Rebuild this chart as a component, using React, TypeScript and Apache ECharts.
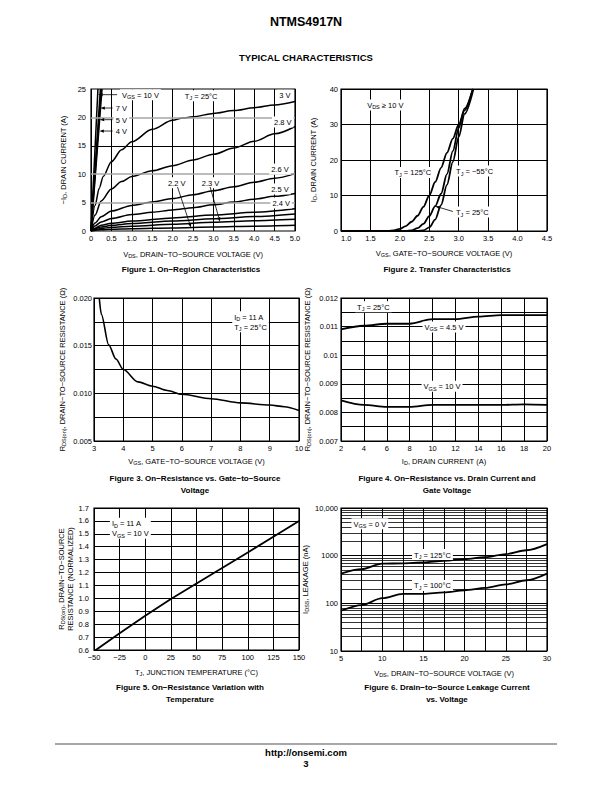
import React, { useEffect, useRef } from 'react';
import * as echarts from 'echarts';

const FONT = '"Liberation Sans", Arial, Helvetica, sans-serif';
const FS = 7.5;

// ---------- Figure 1: On-Region Characteristics (x: VDS [V], y: -ID [A]) ----------
const f1Vgs10 = [[0, 0], [0.17, 25]];
const f1Vgs7 = [[0, 0], [0.23, 25]];
const f1Vgs5 = [[0, 0], [0.25, 25]];
const f1Vgs4 = [[0, 0], [0.27, 25]];
const f1Vgs3 = [[0, 0], [0.1, 4.5], [0.2, 7.5], [0.3, 9.6], [0.5, 12.2], [0.75, 14.3], [1.0, 15.7], [1.5, 17.9], [2.0, 19.5], [2.25, 19.9], [2.5, 20.1], [3.0, 20.7], [3.5, 21.2], [4.0, 21.7], [4.5, 22.2], [5.0, 22.8]];
const f1Vgs28 = [[0, 0], [0.1, 2.8], [0.25, 5.3], [0.5, 7.4], [0.75, 8.7], [1.0, 9.6], [1.5, 10.6], [2.0, 11.5], [2.5, 12.5], [3.0, 13.5], [3.5, 14.6], [4.0, 15.8], [4.5, 17.1], [5.0, 18.4]];
const f1Vgs26 = [[0, 0], [0.1, 1.4], [0.25, 2.5], [0.5, 3.5], [1.0, 4.5], [1.5, 5.1], [2.0, 5.7], [2.5, 6.4], [3.0, 7.1], [3.5, 7.8], [4.0, 8.6], [4.5, 9.3], [5.0, 10.1]];
const f1Vgs25 = [[0, 0], [0.1, 0.9], [0.25, 1.6], [0.5, 2.2], [1.0, 2.9], [1.5, 3.3], [2.0, 3.7], [2.5, 4.1], [3.0, 4.6], [3.5, 5.1], [4.0, 5.6], [4.5, 6.1], [5.0, 6.6]];
const f1Vgs24 = [[0, 0], [0.1, 0.5], [0.25, 1.0], [0.5, 1.35], [1.0, 1.75], [2.0, 2.3], [3.0, 2.8], [4.0, 3.3], [5.0, 3.9]];
const f1Unlabeled = [[0, 0], [0.25, 0.7], [0.5, 1.0], [1.0, 1.3], [2.0, 1.75], [3.0, 2.15], [4.0, 2.55], [5.0, 3.0]];
const f1Vgs23 = [[0, 0], [0.25, 0.45], [0.5, 0.65], [1.0, 0.85], [2.0, 1.2], [3.0, 1.55], [4.0, 1.8], [5.0, 2.05]];
const f1Vgs22 = [[0, 0], [0.25, 0.2], [0.5, 0.3], [1.0, 0.4], [2.0, 0.55], [3.0, 0.7], [4.0, 0.85], [5.0, 1.0]];
const f1GrayGrid = [5, 10, 20];
const f1BlackGrid = [15];

// ---------- Figure 2: Transfer Characteristics (x: VGS [V], y: ID [A]) ----------
const f2Tj125 = [[1.0, 0], [1.8, 0], [1.9, 0.2], [2.0, 0.6], [2.1, 1.4], [2.2, 2.6], [2.3, 4.3], [2.4, 6.8], [2.5, 10.0], [2.6, 13.8], [2.7, 17.8], [2.8, 22.0], [2.9, 26.0], [3.0, 30.0], [3.1, 34.0], [3.24, 40]];
const f2Tj25 = [[1.0, 0], [2.1, 0], [2.2, 0.2], [2.3, 0.8], [2.4, 2.0], [2.5, 4.2], [2.6, 7.0], [2.7, 10.5], [2.8, 16.0], [2.9, 22.5], [3.0, 29.0], [3.1, 34.5], [3.24, 40]];
const f2TjM55 = [[1.0, 0], [2.3, 0], [2.4, 0.2], [2.5, 1.0], [2.6, 3.2], [2.7, 7.3], [2.8, 13.0], [2.9, 19.5], [3.0, 26.5], [3.1, 33.0], [3.25, 40]];

// ---------- Figure 3: RDS(on) vs VGS ----------
const f3Vgs = [3.18, 3.25, 3.5, 3.75, 4.0, 4.5, 5.0, 5.5, 6.0, 7.0, 8.0, 9.0, 9.5, 10.0];
const f3Rds = [0.020, 0.0183, 0.0151, 0.0136, 0.0125, 0.0112, 0.01075, 0.0103, 0.0099, 0.00943, 0.0090, 0.00877, 0.0086, 0.0082];

// ---------- Figure 4: RDS(on) vs ID ----------
const f4Id = [2, 4, 6, 8, 10, 12, 14, 16, 18, 20];
const f4Rds45 = [0.0109, 0.01103, 0.0111, 0.0111, 0.01126, 0.01126, 0.01135, 0.0114, 0.0114, 0.0114];
const f4Rds10 = [0.00842, 0.00826, 0.00819, 0.00819, 0.00826, 0.00826, 0.00826, 0.00826, 0.00828, 0.00826];

// ---------- Figure 5: normalized RDS(on) vs TJ ----------
const f5Tj = [-50, -25, 0, 25, 50, 75, 100, 125, 150];
const f5Rnorm = [0.59, 0.73, 0.865, 0.995, 1.115, 1.235, 1.355, 1.478, 1.6];

// ---------- Figure 6: IDSS vs VDS ----------
const f6Vds = [5, 7.5, 10, 12.5, 15, 17.5, 20, 22.5, 25, 27.5, 30];
const f6Idss125 = [420, 520, 680, 690, 720, 780, 850, 930, 1080, 1300, 1750];
const f6Idss100 = [70, 92, 128, 158, 158, 170, 188, 210, 250, 305, 420];
const f6MinorGrid = [20, 30, 40, 50, 60, 70, 80, 90, 200, 300, 400, 500, 600, 700, 800, 900, 2000, 3000, 4000, 5000, 6000, 7000, 8000, 9000];

// ---------- Layout ----------
const grids = [
  { left: 91, top: 89, width: 204, height: 142 },
  { left: 341, top: 89, width: 206, height: 142 },
  { left: 94, top: 298, width: 205, height: 143 },
  { left: 341, top: 298, width: 206, height: 143 },
  { left: 94, top: 508, width: 205, height: 142 },
  { left: 341, top: 508, width: 206, height: 143 },
];

const subRich = { fontSize: 5.5, fontFamily: FONT, color: '#000', fill: '#000', verticalAlign: 'bottom' };
const nameStyle = { fontSize: FS, fontFamily: FONT, color: '#000', lineHeight: 10, rich: { sub: subRich } };

const fix = (v: number, d: number) => Number(v.toFixed(d));

function makeXAxis(gi: number, min: number, max: number, interval: number, fmt: (v: number) => string, name: string, nameGap: number, minAlign = 'center') {
  return {
    type: 'value', gridIndex: gi, min, max, interval,
    name, nameLocation: 'middle', nameGap, nameTextStyle: nameStyle,
    axisLine: { show: false }, axisTick: { show: false },
    axisLabel: { fontSize: FS, fontFamily: FONT, color: '#000', margin: 3, formatter: fmt, showMinLabel: true, showMaxLabel: true, alignMinLabel: minAlign },
    splitLine: { show: true, lineStyle: { color: '#000', width: 1 } },
  };
}

function makeYAxis(gi: number, base: any, fmt: (v: number) => string, name: string, nameGap: number, margin: number, split = true, extraName: any = {}) {
  return {
    gridIndex: gi, ...base,
    name, nameLocation: 'middle', nameRotate: 90, nameGap, nameTextStyle: { ...nameStyle, ...extraName },
    axisLine: { show: false }, axisTick: { show: false },
    axisLabel: { fontSize: FS, fontFamily: FONT, color: '#000', margin, formatter: fmt, showMinLabel: true, showMaxLabel: true },
    splitLine: { show: split, lineStyle: { color: '#000', width: 1 } },
  };
}

function curve(gi: number, data: number[][], width = 1.5, smooth: number | boolean = 0.3) {
  return {
    type: 'line', xAxisIndex: gi, yAxisIndex: gi, data, symbol: 'none', showSymbol: false,
    smooth, smoothMonotone: 'x', silent: true, z: 3,
    lineStyle: { color: '#000', width },
  };
}

function hLines(gi: number, anchor: number[], values: number[], color: string, width: number) {
  return {
    type: 'line', xAxisIndex: gi, yAxisIndex: gi, data: [anchor], symbol: 'none', showSymbol: false, silent: true, z: 1,
    lineStyle: { opacity: 0 },
    markLine: {
      silent: true, symbol: 'none', label: { show: false }, animation: false,
      lineStyle: { color, width, type: 'solid' },
      data: values.map((v) => ({ yAxis: v })),
    },
  };
}

function buildOption() {
  const zip = (xs: number[], ys: number[]) => xs.map((x, i) => [x, ys[i]]);
  return {
    animation: false,
    backgroundColor: '#fff',
    grid: grids.map((g) => ({ ...g, show: true, borderColor: '#000', borderWidth: 1.2, backgroundColor: 'transparent', containLabel: false, outerBoundsMode: 'none' })),
    xAxis: [
      makeXAxis(0, 0, 5, 0.5, (v) => (v === 0 ? '0' : v.toFixed(1)), 'V{sub|DS}, DRAIN\u2212TO\u2212SOURCE VOLTAGE (V)', 18),
      makeXAxis(1, 1, 4.5, 0.5, (v) => v.toFixed(1), 'V{sub|GS}, GATE\u2212TO\u2212SOURCE VOLTAGE (V)', 17, 'left'),
      makeXAxis(2, 3, 10, 1, (v) => String(Math.round(v)), 'V{sub|GS}, GATE\u2212TO\u2212SOURCE VOLTAGE (V)', 15),
      makeXAxis(3, 2, 20, 2, (v) => String(Math.round(v)), 'I{sub|D}, DRAIN CURRENT (A)', 15),
      makeXAxis(4, -50, 150, 25, (v) => (v < 0 ? '\u2212' + Math.round(-v) : String(Math.round(v))), 'T{sub|J}, JUNCTION TEMPERATURE (\u00B0C)', 17),
      makeXAxis(5, 5, 30, 2.5, (v) => (Math.abs(v / 5 - Math.round(v / 5)) < 1e-6 ? String(Math.round(v)) : ''), 'V{sub|DS}, DRAIN\u2212TO\u2212SOURCE VOLTAGE (V)', 17),
    ],
    yAxis: [
      makeYAxis(0, { type: 'value', min: 0, max: 25, interval: 5 }, (v) => String(Math.round(v)), '\u2212I{sub|D}, DRAIN CURRENT (A)', 23, 5, false),
      makeYAxis(1, { type: 'value', min: 0, max: 40, interval: 10 }, (v) => String(Math.round(v)), 'I{sub|D}, DRAIN CURRENT (A)', 23, 3),
      makeYAxis(2, { type: 'value', min: 0.005, max: 0.02, interval: 0.0025 }, (v) => (Math.round(v * 10000) % 50 === 0 ? v.toFixed(3) : ''), 'R{sub|DS(on)}, DRAIN\u2212TO\u2212SOURCE RESISTANCE (\u03A9)', 27, 2),
      makeYAxis(3, { type: 'value', min: 0.007, max: 0.012, interval: 0.0005 }, (v) => (Math.round(v * 10000) % 10 === 0 ? String(fix(v, 3)) : ''), 'R{sub|DS(on)}, DRAIN\u2212TO\u2212SOURCE RESISTANCE (\u03A9)', 29, 3),
      makeYAxis(4, { type: 'value', min: 0.6, max: 1.7, interval: 0.1 }, (v) => v.toFixed(1), 'R{sub|DS(on)}, DRAIN\u2212TO\u2212SOURCE\nRESISTANCE (NORMALIZED)', 17, 5, true, { lineHeight: 9 }),
      makeYAxis(5, { type: 'log', logBase: 10, min: 10, max: 10000 }, (v) => { const r = Math.round(v); return r === 10000 ? '10,000' : String(r); }, 'I{sub|DSS}, LEAKAGE (nA)', 31, 3),
    ],
    series: [
      hLines(0, [0, 0], f1GrayGrid, '#a6a6a6', 1.5),
      hLines(0, [0, 0], f1BlackGrid, '#000', 1),
      curve(0, f1Vgs10, 1.5, false),
      curve(0, f1Vgs7, 1.5, false),
      curve(0, f1Vgs5, 1.5, false),
      curve(0, f1Vgs4, 1.5, false),
      curve(0, f1Vgs3),
      curve(0, f1Vgs28),
      curve(0, f1Vgs26),
      curve(0, f1Vgs25),
      curve(0, f1Vgs24),
      curve(0, f1Unlabeled),
      curve(0, f1Vgs23),
      curve(0, f1Vgs22),
      curve(1, f2Tj125, 1.8),
      curve(1, f2Tj25, 1.8),
      curve(1, f2TjM55, 1.8),
      curve(2, zip(f3Vgs, f3Rds), 1.6),
      curve(3, zip(f4Id, f4Rds45), 1.8),
      curve(3, zip(f4Id, f4Rds10), 1.8),
      curve(4, zip(f5Tj, f5Rnorm), 1.8, false),
      hLines(5, [5, 10], f6MinorGrid, '#000', 0.8),
      curve(5, zip(f6Vds, f6Idss125), 1.8),
      curve(5, zip(f6Vds, f6Idss100), 1.8),
    ],
  };
}

// ---------- Annotations (data coordinates of each figure) ----------
type Ann = { g: number; x: number; y: number; text: string; align: 'left' | 'center'; bg: boolean };
const annotations: Ann[] = [
  { g: 0, x: 0.71, y: 24.0, text: 'V{sub|GS} = 10 V', align: 'left', bg: true },
  { g: 0, x: 0.56, y: 21.65, text: '7 V', align: 'left', bg: true },
  { g: 0, x: 0.56, y: 19.6, text: '5 V', align: 'left', bg: true },
  { g: 0, x: 0.56, y: 17.6, text: '4 V', align: 'left', bg: true },
  { g: 0, x: 2.7, y: 23.8, text: 'T{sub|J} = 25\u00B0C', align: 'center', bg: true },
  { g: 0, x: 4.75, y: 23.9, text: '3 V', align: 'center', bg: true },
  { g: 0, x: 4.7, y: 19.2, text: '2.8 V', align: 'center', bg: true },
  { g: 0, x: 4.63, y: 10.9, text: '2.6 V', align: 'center', bg: true },
  { g: 0, x: 4.63, y: 7.4, text: '2.5 V', align: 'center', bg: true },
  { g: 0, x: 4.66, y: 4.93, text: '2.4 V', align: 'center', bg: true },
  { g: 0, x: 2.1, y: 8.5, text: '2.2 V', align: 'center', bg: true },
  { g: 0, x: 2.93, y: 8.5, text: '2.3 V', align: 'center', bg: true },
  { g: 1, x: 1.41, y: 35.5, text: 'V{sub|DS} \u2265 10 V', align: 'left', bg: true },
  { g: 1, x: 2.22, y: 16.5, text: 'T{sub|J} = 125\u00B0C', align: 'center', bg: true },
  { g: 1, x: 3.27, y: 16.9, text: 'T{sub|J} = \u221255\u00B0C', align: 'center', bg: true },
  { g: 1, x: 2.92, y: 5.35, text: 'T{sub|J} = 25\u00B0C', align: 'left', bg: true },
  { g: 2, x: 7.72, y: 0.0175, text: 'I{sub|D} = 11 A\nT{sub|J} = 25\u00B0C', align: 'left', bg: true },
  { g: 3, x: 4.83, y: 0.01169, text: 'T{sub|J} = 25\u00B0C', align: 'center', bg: true },
  { g: 3, x: 11.0, y: 0.01099, text: 'V{sub|GS} = 4.5 V', align: 'center', bg: true },
  { g: 3, x: 10.83, y: 0.00891, text: 'V{sub|GS} = 10 V', align: 'center', bg: true },
  { g: 4, x: -34.5, y: 1.543, text: 'I{sub|D} = 11 A\nV{sub|GS} = 10 V', align: 'left', bg: true },
  { g: 5, x: 8.5, y: 4700, text: 'V{sub|GS} = 0 V', align: 'center', bg: true },
  { g: 5, x: 16.1, y: 1055, text: 'T{sub|J} = 125\u00B0C', align: 'center', bg: true },
  { g: 5, x: 16.1, y: 237, text: 'T{sub|J} = 100\u00B0C', align: 'center', bg: true },
];

type Arrow = { g: number; from: number[]; to: number[] };
const arrows: Arrow[] = [
  { g: 0, from: [0.64, 24.0], to: [0.175, 24.0] },
  { g: 0, from: [0.53, 21.65], to: [0.23, 21.65] },
  { g: 0, from: [0.53, 19.6], to: [0.215, 19.6] },
  { g: 0, from: [0.53, 17.6], to: [0.205, 17.6] },
  { g: 0, from: [2.12, 7.75], to: [2.45, 0.6] },
  { g: 0, from: [2.92, 7.75], to: [3.16, 1.64] },
  { g: 1, from: [2.9, 5.5], to: [2.6, 7.0] },
];

// caption centre x and centre y of its first line
const captions = [
  { x: 191, y: 269, text: 'Figure 1. On\u2212Region Characteristics' },
  { x: 447, y: 269, text: 'Figure 2. Transfer Characteristics' },
  { x: 195, y: 478, text: 'Figure 3. On\u2212Resistance vs. Gate\u2212to\u2212Source\nVoltage' },
  { x: 447, y: 478, text: 'Figure 4. On\u2212Resistance vs. Drain Current and\nGate Voltage' },
  { x: 190, y: 687, text: 'Figure 5. On\u2212Resistance Variation with\nTemperature' },
  { x: 447, y: 687, text: 'Figure 6. Drain\u2212to\u2212Source Leakage Current\nvs. Voltage' },
];

function buildGraphics(chart: any) {
  const els: any[] = [];
  const toPx = (g: number, p: number[]) => chart.convertToPixel({ gridIndex: g }, p) as number[];

  els.push({ type: 'text', x: 306, y: 22, z: 100, style: { text: 'NTMS4917N', fill: '#000', fontSize: 12.5, fontWeight: 'bold', fontFamily: FONT, align: 'center', verticalAlign: 'middle' } });
  els.push({ type: 'text', x: 306, y: 57, z: 100, style: { text: 'TYPICAL CHARACTERISTICS', fill: '#000', fontSize: 9.5, fontWeight: 'bold', fontFamily: FONT, align: 'center', verticalAlign: 'middle' } });
  for (const c of captions) {
    els.push({ type: 'text', x: c.x, y: c.y - 6, z: 100, style: { text: c.text, fill: '#000', fontSize: 8, fontWeight: 'bold', fontFamily: FONT, align: 'center', verticalAlign: 'top', lineHeight: 12 } });
  }
  els.push({ type: 'line', z: 100, shape: { x1: 55, y1: 744, x2: 557, y2: 744 }, style: { stroke: '#a8a8a8', lineWidth: 2 } });
  els.push({ type: 'text', x: 306, y: 752, z: 100, style: { text: 'http://onsemi.com', fill: '#000', fontSize: 9.5, fontWeight: 'bold', fontFamily: FONT, align: 'center', verticalAlign: 'middle' } });
  els.push({ type: 'text', x: 306, y: 763, z: 100, style: { text: '3', fill: '#000', fontSize: 9.5, fontWeight: 'bold', fontFamily: FONT, align: 'center', verticalAlign: 'middle' } });

  for (const a of arrows) {
    const p0 = toPx(a.g, a.from);
    const p1 = toPx(a.g, a.to);
    const dx = p1[0] - p0[0];
    const dy = p1[1] - p0[1];
    const len = Math.sqrt(dx * dx + dy * dy) || 1;
    const ux = dx / len;
    const uy = dy / len;
    const hl = 4.5;
    const hw = 1.6;
    const bx = p1[0] - ux * hl;
    const by = p1[1] - uy * hl;
    els.push({ type: 'line', z: 60, shape: { x1: p0[0], y1: p0[1], x2: bx, y2: by }, style: { stroke: '#000', lineWidth: 0.8 } });
    els.push({ type: 'polygon', z: 60, shape: { points: [[p1[0], p1[1]], [bx - uy * hw, by + ux * hw], [bx + uy * hw, by - ux * hw]] }, style: { fill: '#000' } });
  }

  for (const a of annotations) {
    const p = toPx(a.g, [a.x, a.y]);
    els.push({
      type: 'text', x: p[0], y: p[1], z: 50,
      style: {
        text: a.text, fill: '#000', fontSize: FS, fontFamily: FONT, lineHeight: 10,
        align: a.align, verticalAlign: 'middle',
        backgroundColor: a.bg ? '#fff' : 'transparent', padding: a.bg ? [1, 2, 0, 2] : 0,
        rich: { sub: { fontSize: 5.5, fontFamily: FONT, fill: '#000', verticalAlign: 'bottom' } },
      },
    });
  }
  return els;
}

export default function App() {
  const ref = useRef<HTMLDivElement>(null);
  useEffect(() => {
    const chart = echarts.init(ref.current as HTMLDivElement, null, { renderer: 'svg', width: 612, height: 792 });
    chart.setOption(buildOption() as any);
    chart.setOption({ graphic: buildGraphics(chart) } as any);
    return () => chart.dispose();
  }, []);
  return <div ref={ref} style={{ position: 'absolute', left: 0, top: 0, width: 612, height: 792, background: '#fff' }} />;
}
